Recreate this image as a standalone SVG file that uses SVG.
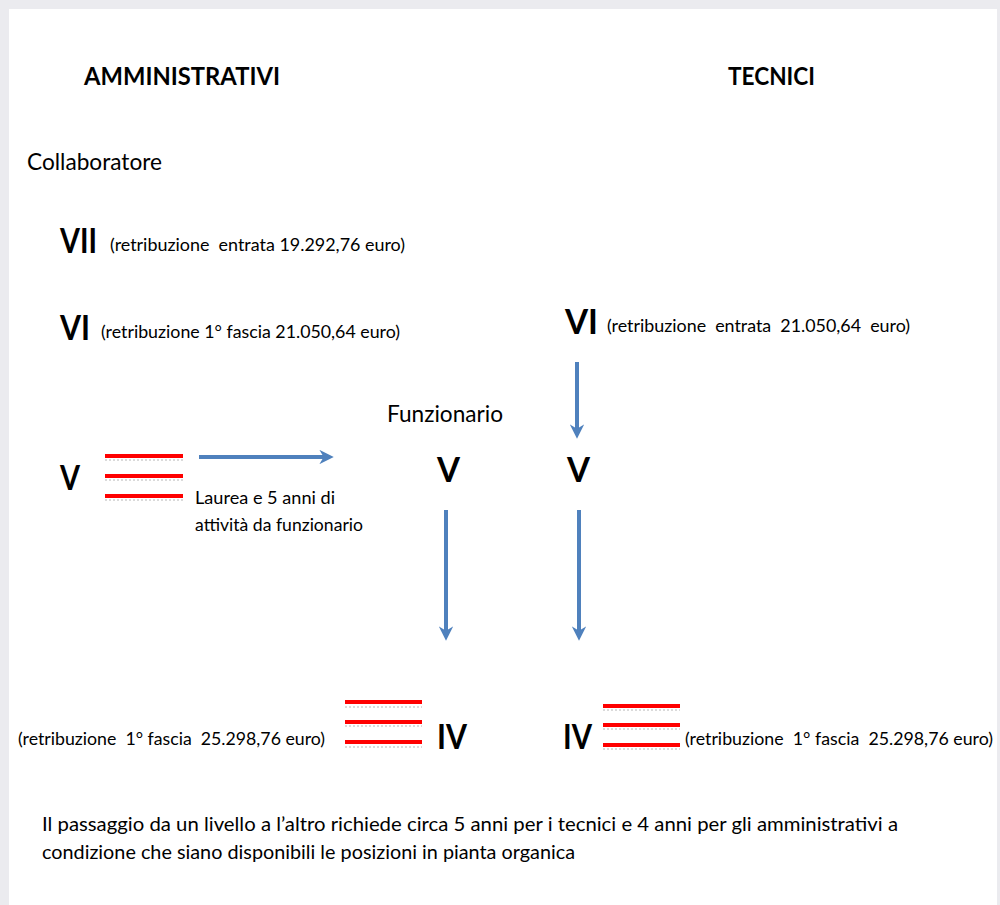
<svg xmlns="http://www.w3.org/2000/svg" width="1000" height="905" viewBox="0 0 1000 905">
<defs>
<style>
text{font-family:Lato,"Open Sans","Liberation Sans",sans-serif;fill:#000;white-space:pre}
.h{font-weight:bold;font-size:24px}
.big{font-weight:bold;font-size:34px}
.sm{font-size:17px}
.md{font-size:23px}
.lb{font-size:18px}
.nt{font-size:20px}
.red{stroke:#ff0000;stroke-width:4}
.dot{stroke:#888;stroke-width:1;stroke-dasharray:2 2;opacity:0.6}
.arr{stroke:#4f81bd;stroke-width:4;fill:none}
</style>
<marker id="ah" viewBox="0 0 10 10" refX="6" refY="5" markerWidth="3.6" markerHeight="3.6" orient="auto" markerUnits="strokeWidth">
<path d="M0,0 L10,5 L0,10 L3,5 z" fill="#4f81bd"/>
</marker>
</defs>
<rect x="0" y="0" width="1000" height="905" fill="#ebebef"/>
<rect x="9" y="9" width="988" height="896" fill="#ffffff"/>

<g id="head-amm"><text class="h" x="84" y="85" textLength="196" lengthAdjust="spacingAndGlyphs">AMMINISTRATIVI</text></g>
<g id="head-tec"><text class="h" x="728" y="85" textLength="87" lengthAdjust="spacingAndGlyphs">TECNICI</text></g>
<g id="collaboratore"><text class="md" x="27" y="170" textLength="135" lengthAdjust="spacingAndGlyphs">Collaboratore</text></g>

<g id="amm-VII">
<text class="big" x="60" y="253" textLength="37" lengthAdjust="spacingAndGlyphs">VII</text>
<text class="sm" x="110" y="251" textLength="295" lengthAdjust="spacingAndGlyphs">(retribuzione  entrata 19.292,76 euro)</text>
</g>
<g id="amm-VI">
<text class="big" x="60" y="340" textLength="30" lengthAdjust="spacingAndGlyphs">VI</text>
<text class="sm" x="101" y="338" textLength="299" lengthAdjust="spacingAndGlyphs">(retribuzione 1° fascia 21.050,64 euro)</text>
</g>
<g id="tec-VI">
<text class="big" x="565" y="334" textLength="33" lengthAdjust="spacingAndGlyphs">VI</text>
<text class="sm" x="607" y="332" textLength="303" lengthAdjust="spacingAndGlyphs">(retribuzione  entrata  21.050,64  euro)</text>
</g>
<g id="funzionario"><text class="md" x="387" y="422" textLength="116" lengthAdjust="spacingAndGlyphs">Funzionario</text></g>

<g id="amm-V">
<text class="big" x="60" y="490" textLength="20" lengthAdjust="spacingAndGlyphs">V</text>
<line class="red" x1="105" y1="456" x2="183" y2="456"/><line class="dot" x1="105" y1="460" x2="183" y2="460"/>
<line class="red" x1="105" y1="476" x2="183" y2="476"/><line class="dot" x1="105" y1="480" x2="183" y2="480"/>
<line class="red" x1="105" y1="496" x2="183" y2="496"/><line class="dot" x1="105" y1="500" x2="183" y2="500"/>
</g>
<g id="laurea">
<text class="lb" x="195" y="504" textLength="140" lengthAdjust="spacingAndGlyphs">Laurea e 5 anni di</text>
<text class="lb" x="195" y="531" textLength="168" lengthAdjust="spacingAndGlyphs">attività da funzionario</text>
</g>
<g id="funz-V"><text class="big" x="437" y="482" textLength="23" lengthAdjust="spacingAndGlyphs">V</text></g>
<g id="tec-V"><text class="big" x="567" y="482" textLength="23" lengthAdjust="spacingAndGlyphs">V</text></g>

<g id="connectors">
<line class="arr" x1="199" y1="457" x2="328" y2="457" marker-end="url(#ah)"/>
<line class="arr" x1="577" y1="362" x2="577" y2="433" marker-end="url(#ah)"/>
<line class="arr" x1="446" y1="510" x2="446" y2="635" marker-end="url(#ah)"/>
<line class="arr" x1="579" y1="510" x2="579" y2="635" marker-end="url(#ah)"/>
</g>

<g id="amm-IV">
<text class="sm" x="18" y="745" textLength="307" lengthAdjust="spacingAndGlyphs">(retribuzione  1° fascia  25.298,76 euro)</text>
<line class="red" x1="345" y1="702" x2="422" y2="702"/><line class="dot" x1="345" y1="707" x2="422" y2="707"/>
<line class="red" x1="345" y1="722" x2="422" y2="722"/><line class="dot" x1="345" y1="726" x2="422" y2="726"/>
<line class="red" x1="345" y1="742" x2="422" y2="742"/><line class="dot" x1="345" y1="747" x2="422" y2="747"/>
<text class="big" x="437" y="749" textLength="30" lengthAdjust="spacingAndGlyphs">IV</text>
</g>
<g id="tec-IV">
<text class="big" x="563" y="749" textLength="29" lengthAdjust="spacingAndGlyphs">IV</text>
<line class="red" x1="603" y1="706" x2="680" y2="706"/><line class="dot" x1="603" y1="710" x2="680" y2="710"/>
<line class="red" x1="603" y1="725" x2="680" y2="725"/><line class="dot" x1="603" y1="729" x2="680" y2="729"/>
<line class="red" x1="603" y1="745" x2="680" y2="745"/><line class="dot" x1="603" y1="749" x2="680" y2="749"/>
<text class="sm" x="685" y="745" textLength="308" lengthAdjust="spacingAndGlyphs">(retribuzione  1° fascia  25.298,76 euro)</text>
</g>

<g id="nota">
<text class="nt" x="42" y="831" textLength="856" lengthAdjust="spacingAndGlyphs">Il passaggio da un livello a l’altro richiede circa 5 anni per i tecnici e 4 anni per gli amministrativi a</text>
<text class="nt" x="42" y="859" textLength="533" lengthAdjust="spacingAndGlyphs">condizione che siano disponibili le posizioni in pianta organica</text>
</g>
</svg>
